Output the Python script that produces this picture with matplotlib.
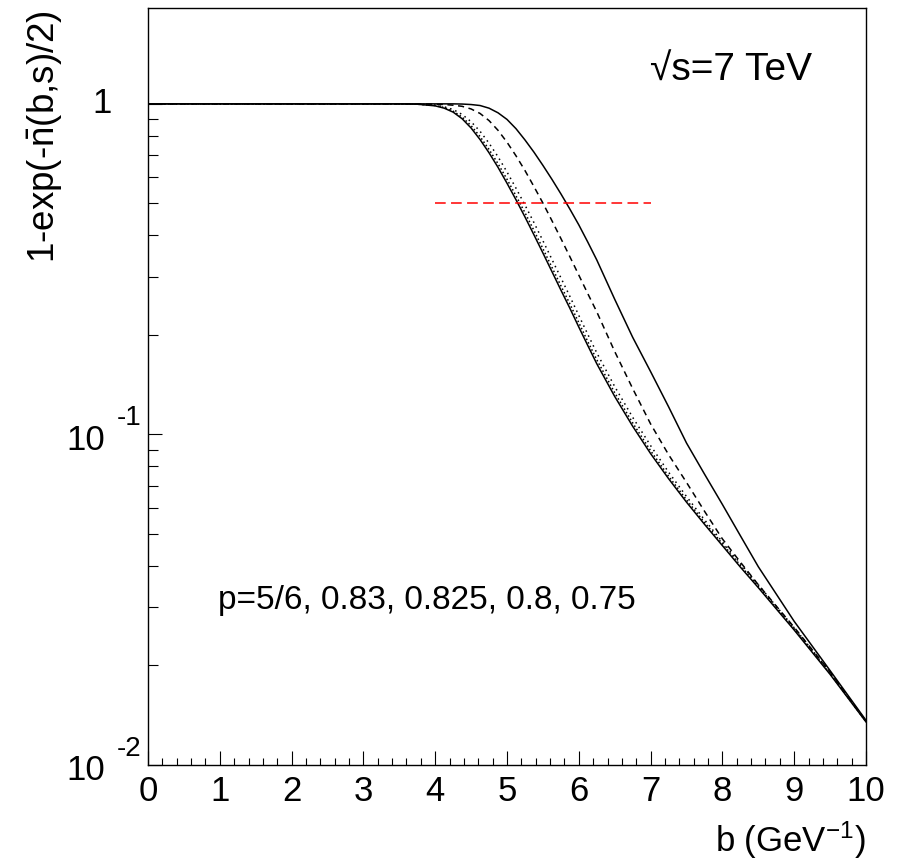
import numpy as np
import matplotlib
matplotlib.use("Agg")
import matplotlib.pyplot as plt
from matplotlib.ticker import FixedLocator, NullFormatter, MultipleLocator
from matplotlib.transforms import blended_transform_factory, offset_copy

plt.rcParams['font.family'] = ['Liberation Sans', 'DejaVu Sans']
plt.rcParams['mathtext.fontset'] = 'custom'
plt.rcParams['mathtext.rm'] = 'Liberation Sans'
plt.rcParams['mathtext.it'] = 'Liberation Sans:italic'
plt.rcParams['mathtext.bf'] = 'Liberation Sans:bold'

# ---- data ----
b = [0, 1, 2, 3, 3.5, 3.75, 4.0, 4.125, 4.25, 4.375, 4.5, 4.625, 4.75, 4.875,
     5.0, 5.125, 5.25, 5.375, 5.5, 5.625, 5.75, 5.875, 6.0, 6.125, 6.25, 6.5,
     6.75, 7.0, 7.25, 7.5, 7.75, 8.0, 8.25, 8.5, 9.0, 9.5, 10.0]
p_5_6 = [1, 1, 1, 1, 1, 0.9977, 0.9863, 0.9705, 0.9441, 0.9016, 0.8453, 0.7798,
         0.7112, 0.6427, 0.5754, 0.5129, 0.4550, 0.4018, 0.3540, 0.3112, 0.2735,
         0.2410, 0.2113, 0.1858, 0.1637, 0.1303, 0.1059, 0.0875, 0.0735, 0.0624,
         0.0535, 0.0461, 0.0397, 0.0344, 0.0256, 0.0188, 0.0135]
p_083 = [1, 1, 1, 1, 1, 0.9977, 0.9886, 0.9750, 0.9506, 0.9120, 0.8590, 0.7962,
         0.7278, 0.6592, 0.5916, 0.5272, 0.4688, 0.4140, 0.3648, 0.3206, 0.2818,
         0.2483, 0.2178, 0.1910, 0.1683, 0.1337, 0.1084, 0.0893, 0.0748, 0.0634,
         0.0542, 0.0467, 0.0402, 0.0347, 0.0258, 0.0189, 0.01352]
p_0825 = [1, 1, 1, 1, 1, 0.9988, 0.9908, 0.9795, 0.9616, 0.9290, 0.8831, 0.8260,
          0.7603, 0.6918, 0.6223, 0.5559, 0.4943, 0.4375, 0.3855, 0.3388, 0.2979,
          0.2618, 0.2291, 0.2009, 0.1766, 0.1396, 0.1127, 0.0925, 0.0769, 0.0649,
          0.0552, 0.0473, 0.0407, 0.0351, 0.0260, 0.0191, 0.01355]
p_08 = [1, 1, 1, 1, 1, 1, 0.9977, 0.9954, 0.9908, 0.9831, 0.9652, 0.9354,
        0.8900, 0.8318, 0.7656, 0.6966, 0.6287, 0.5623, 0.5012, 0.4436, 0.3917,
        0.3451, 0.3034, 0.2667, 0.2350, 0.1782, 0.1377, 0.1076, 0.0869, 0.0716,
        0.0586, 0.0483, 0.0411, 0.0351, 0.0261, 0.0191, 0.01357]
p_075 = [1, 1, 1, 1, 1, 1, 1, 1, 1, 0.9988, 0.9954, 0.9886, 0.9705, 0.9397,
         0.8974, 0.8414, 0.7780, 0.7145, 0.6516, 0.5916, 0.5346, 0.4808, 0.4305,
         0.3819, 0.3373, 0.2564, 0.1968, 0.1549, 0.1213, 0.0942, 0.0759, 0.0614,
         0.0494, 0.0398, 0.0272, 0.0193, 0.01365]
half_b = [4.0, 7.0]
half_v = [0.5, 0.5]

x_ticks = [0, 1, 2, 3, 4, 5, 6, 7, 8, 9, 10]
y_major = [0.01, 0.1, 1]

W, H = 902, 859
fig = plt.figure(figsize=(W / 100, H / 100), dpi=100)
ax = fig.add_axes([148 / W, 1 - 765 / H, (866 - 148) / W, (765 - 8) / H])

lw = 1.1
ax.plot(b, p_5_6, color='black', lw=lw, ls='-')
ax.plot(b, p_083, color='black', lw=lw, ls=(0, (1, 1.6)))
ax.plot(b, p_0825, color='black', lw=lw, ls=(0, (1, 2.6)))
ax.plot(b, p_08, color='black', lw=lw, ls=(0, (4, 3)))
ax.plot(b, p_075, color='black', lw=lw, ls='-')
ax.plot(half_b, half_v, color='red', lw=1.1, ls=(0, (7, 3.5)))

ax.set_yscale('log')
ax.set_xlim(0, 10)
ax.set_ylim(0.01, 1.95)

ax.xaxis.set_major_locator(FixedLocator(x_ticks))
ax.xaxis.set_minor_locator(MultipleLocator(0.2))
ax.set_xticklabels([str(t) for t in x_ticks])
ax.yaxis.set_major_locator(FixedLocator(y_major))
ax.yaxis.set_minor_locator(FixedLocator(
    [m * d for d in (0.01, 0.1, 1) for m in range(2, 10) if m * d < 1.95]))
ax.yaxis.set_major_formatter(NullFormatter())
ax.yaxis.set_minor_formatter(NullFormatter())

ax.tick_params(axis='x', which='major', direction='in', length=10, width=0.8,
               labelsize=25, pad=7, top=False)
ax.tick_params(axis='x', which='minor', direction='in', length=5, width=0.8, top=False)
ax.tick_params(axis='y', which='major', direction='in', length=10, width=0.8, right=False)
ax.tick_params(axis='y', which='minor', direction='in', length=7, width=0.8, right=False)
for s in ax.spines.values():
    s.set_linewidth(1.0)

# y tick labels, ROOT style
tr = blended_transform_factory(ax.transAxes, ax.transData)
for v in y_major:
    if v == 1:
        ax.text(0, v, '1', transform=offset_copy(tr, fig, x=-36, y=0, units='dots'),
                ha='right', va='center', fontsize=25)
    else:
        k = int(round(np.log10(v)))
        ax.text(0, v, '10', transform=offset_copy(tr, fig, x=-43, y=-6, units='dots'),
                ha='right', va='center', fontsize=25)
        ax.text(0, v, '-%d' % (-k), transform=offset_copy(tr, fig, x=-31, y=3, units='dots'),
                ha='left', va='bottom', fontsize=20)

fig.text(45 / W, 1 - 10 / H, r'1-exp(-$\bar{\mathrm{n}}$(b,s)/2)', rotation=90,
         ha='center', va='top', fontsize=26.5)
fig.text(866 / W, 1 - 840 / H, r'b (GeV$^{\mathrm{-1}}$)', ha='right', va='center',
         fontsize=25)
fig.text(650 / W, 1 - 71 / H, '√s=7 TeV', ha='left', va='center', fontsize=28)
fig.text(218 / W, 1 - 601 / H, 'p=5/6, 0.83, 0.825, 0.8, 0.75', ha='left',
         va='center', fontsize=24)

fig.savefig('out.png', dpi=100)
